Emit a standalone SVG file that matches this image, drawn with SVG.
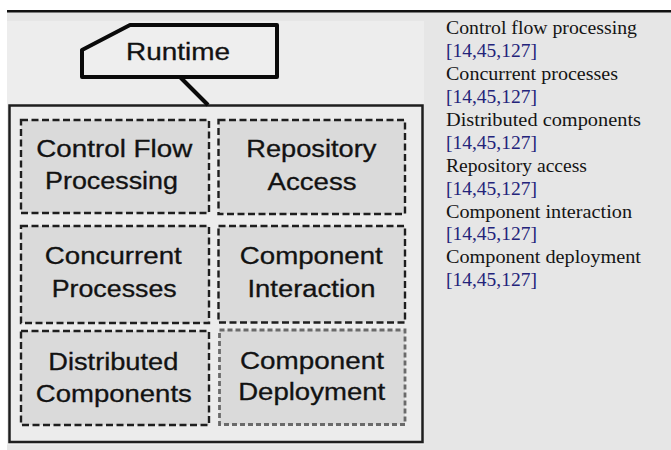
<svg xmlns="http://www.w3.org/2000/svg" width="671" height="450" viewBox="0 0 671 450">
<style>
.box{fill:#dadada;stroke:#1e1e1e;stroke-width:2.4;stroke-dasharray:7 3.5}
.box.alt{stroke:#6a6a6a;stroke-width:2.8;stroke-dasharray:5 3}
.lbl{font-family:"Liberation Sans",Arial,sans-serif;font-size:23px;fill:#121212;stroke:#121212;stroke-width:0.3;text-anchor:middle}
.ref{font-family:"Liberation Serif","Times New Roman",serif;font-size:18.5px;fill:#141414}
.cit{fill:#23237a}
</style>
<rect x="0" y="0" width="671" height="450" fill="#ffffff"/>
<rect x="7" y="12" width="664" height="438" fill="#e6e6e6"/>
<rect x="7" y="10" width="664" height="2.5" fill="#111111"/>
<rect x="7" y="21" width="417" height="424" fill="#ededed"/>

<g id="container">
<rect x="9.5" y="105.5" width="413" height="336.5" fill="#ececec" stroke="#1e1e1e" stroke-width="2.5"/>
</g>

<g id="connectors">
<line x1="180" y1="77" x2="208" y2="105" stroke="#0a0a0a" stroke-width="4"/>
</g>

<g id="runtime">
<path d="M130 25 L277 25 L277 77 L82 77 L82 50 Z" fill="#eeeeee" stroke="#0a0a0a" stroke-width="4" stroke-linejoin="round"/>
<text class="lbl" x="178" y="59.5" textLength="104" lengthAdjust="spacingAndGlyphs">Runtime</text>
</g>

<g id="control-flow">
<rect class="box" x="21" y="120" width="188" height="93"/>
<text class="lbl" x="114.3" y="157" textLength="156" lengthAdjust="spacingAndGlyphs">Control Flow</text>
<text class="lbl" x="111.5" y="189" textLength="133" lengthAdjust="spacingAndGlyphs">Processing</text>
</g>

<g id="repository">
<rect class="box" x="218.5" y="120" width="186.5" height="94"/>
<text class="lbl" x="311.3" y="157" textLength="130" lengthAdjust="spacingAndGlyphs">Repository</text>
<text class="lbl" x="312" y="190" textLength="89" lengthAdjust="spacingAndGlyphs">Access</text>
</g>

<g id="concurrent">
<rect class="box" x="21" y="226" width="188" height="97"/>
<text class="lbl" x="113.3" y="263.5" textLength="137" lengthAdjust="spacingAndGlyphs">Concurrent</text>
<text class="lbl" x="114.2" y="296.5" textLength="125" lengthAdjust="spacingAndGlyphs">Processes</text>
</g>

<g id="interaction">
<rect class="box" x="218.5" y="226" width="186.5" height="96.5"/>
<text class="lbl" x="311.3" y="263.5" textLength="143" lengthAdjust="spacingAndGlyphs">Component</text>
<text class="lbl" x="311.5" y="296.5" textLength="128" lengthAdjust="spacingAndGlyphs">Interaction</text>
</g>

<g id="distributed">
<rect class="box" x="21" y="331" width="188" height="94"/>
<text class="lbl" x="113.3" y="370" textLength="130" lengthAdjust="spacingAndGlyphs">Distributed</text>
<text class="lbl" x="113.8" y="401.5" textLength="156" lengthAdjust="spacingAndGlyphs">Components</text>
</g>

<g id="deployment">
<rect class="box alt" x="219.5" y="330" width="185.5" height="94.5"/>
<text class="lbl" x="312" y="368.5" textLength="144" lengthAdjust="spacingAndGlyphs">Component</text>
<text class="lbl" x="311.7" y="400" textLength="147" lengthAdjust="spacingAndGlyphs">Deployment</text>
</g>

<g id="references">
<text class="ref" x="446" y="34.3" textLength="191" lengthAdjust="spacingAndGlyphs">Control flow processing</text>
<text class="ref cit" x="446" y="57.2" textLength="91" lengthAdjust="spacingAndGlyphs">[14,45,127]</text>
<text class="ref" x="446" y="80.1" textLength="172" lengthAdjust="spacingAndGlyphs">Concurrent processes</text>
<text class="ref cit" x="446" y="103" textLength="91" lengthAdjust="spacingAndGlyphs">[14,45,127]</text>
<text class="ref" x="446" y="125.9" textLength="195" lengthAdjust="spacingAndGlyphs">Distributed components</text>
<text class="ref cit" x="446" y="148.8" textLength="91" lengthAdjust="spacingAndGlyphs">[14,45,127]</text>
<text class="ref" x="446" y="171.7" textLength="141" lengthAdjust="spacingAndGlyphs">Repository access</text>
<text class="ref cit" x="446" y="194.6" textLength="91" lengthAdjust="spacingAndGlyphs">[14,45,127]</text>
<text class="ref" x="446" y="217.5" textLength="186" lengthAdjust="spacingAndGlyphs">Component interaction</text>
<text class="ref cit" x="446" y="240.4" textLength="91" lengthAdjust="spacingAndGlyphs">[14,45,127]</text>
<text class="ref" x="446" y="263.3" textLength="195" lengthAdjust="spacingAndGlyphs">Component deployment</text>
<text class="ref cit" x="446" y="286.2" textLength="91" lengthAdjust="spacingAndGlyphs">[14,45,127]</text>
</g>
</svg>
